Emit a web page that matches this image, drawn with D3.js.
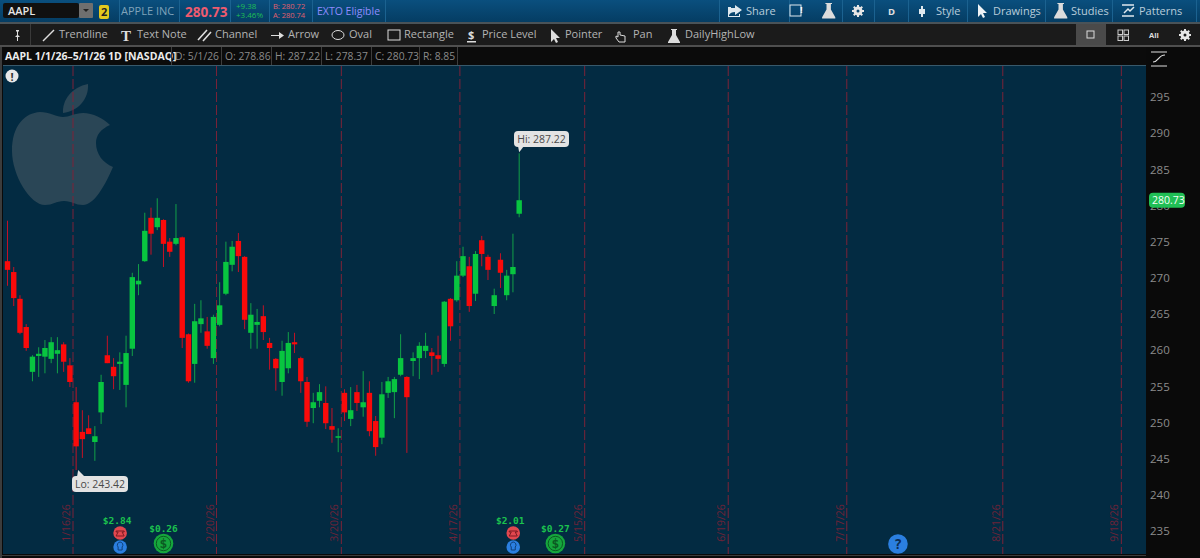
<!DOCTYPE html>
<html>
<head>
<meta charset="utf-8">
<script src="https://cdnjs.cloudflare.com/ajax/libs/d3/7.8.5/d3.min.js"></script>
<style>
  html, body { margin: 0; padding: 0; background: #0a0a0a; overflow: hidden; }
  svg { display: block; font-family: "Open Sans", "Noto Sans", sans-serif; }
</style>
</head>
<body>
<svg id="chart" width="1200" height="558"></svg>
<script>
// daily candles, session 0 = 1/2/26
const opens = [272.3,270.8,267.1,263.2,257.0,259.2,259.1,258.8,259.5,260.8,257.9,252.8,248.7,249.2,247.3,251.4,259.3,257.7,258.1,255.2,260.2,269.1,272.3,278.3,277.0,278.0,275.0,274.7,275.6,262.2,258.1,263.6,262.6,258.9,263.5,267.8,271.8,275.1,272.9,262.4,263.5,264.7,261.0,258.8,255.6,257.5,261.1,258.9,255.6,252.0,253.0,252.7,249.5,247.9,254.1,250.5,254.2,252.1,254.1,250.2,247.9,254.1,254.2,256.6,256.3,258.5,258.9,259.9,259.7,259.3,258.1,267.1,266.9,270.3,271.6,267.8,275.2,272.9,266.1,272.5,267.6,270.5,278.86];
const highs = [277.9,271.5,267.6,263.6,259.3,260.4,261.4,261.8,261.8,261.1,258.9,254.9,251.7,251.0,249.5,256.6,262.0,258.9,259.7,262.0,270.7,271.9,279.0,279.7,281.0,278.1,275.5,280.2,275.7,262.3,266.4,266.9,264.6,264.9,269.4,275.0,275.1,276.2,273.0,266.5,265.7,266.2,261.7,258.9,261.3,262.5,262.4,259.1,256.3,254.1,255.3,255.0,252.0,249.2,254.6,254.9,255.2,257.1,255.7,250.9,255.6,256.3,256.3,262.2,256.4,259.7,261.1,262.4,260.3,262.0,266.8,267.2,272.3,274.3,272.9,273.7,275.8,273.2,268.5,273.4,271.1,276.1,287.22];
const lows = [268.9,266.1,262.2,259.9,255.7,256.3,256.8,258.2,256.8,257.0,254.9,243.42,245.1,248.4,244.7,249.8,258.2,254.6,254.5,252.1,259.2,267.6,272.2,273.2,276.6,271.5,272.9,274.5,260.3,255.5,255.5,262.4,260.2,258.1,263.3,267.6,270.9,270.8,262.9,260.2,260.2,261.4,257.3,254.4,253.7,256.8,259.6,254.1,249.4,249.9,252.1,249.1,247.2,245.9,250.2,249.5,251.6,250.8,248.1,245.4,247.0,253.4,250.6,256.4,245.8,256.4,256.0,258.9,256.6,257.0,257.7,261.3,266.7,270.1,265.3,266.8,271.6,269.7,265.0,268.6,266.9,268.0,278.37];
const closes = [271.1,267.2,262.4,260.3,259.1,259.5,260.3,261.1,260.0,258.4,255.6,246.7,247.7,248.4,248.1,255.6,258.2,256.4,258.4,259.6,270.1,269.6,276.5,276.1,278.3,274.7,273.6,275.5,261.7,255.7,264.0,264.4,260.6,264.6,266.2,272.2,274.3,273.0,264.2,264.9,263.9,262.5,260.3,257.5,259.9,261.0,260.8,255.7,250.1,252.8,254.2,249.9,249.0,248.1,251.4,251.7,252.7,252.8,248.8,246.6,253.9,255.7,256.0,258.9,253.5,258.9,260.6,260.6,259.2,258.8,266.7,263.3,270.3,273.0,266.1,273.3,273.3,271.1,267.6,270.7,270.3,271.5,280.73];

const priceTicks = [235,240,245,250,255,260,265,270,275,280,285,290,295];
const periodSessions = [10,33,53,72,92,115,134,159,178];
const periodLabels = ['1/16/26','2/20/26','3/20/26','4/17/26','5/15/26','6/19/26','7/17/26','8/21/26','9/18/26'];
const earningsSessions = [18,81];
const earningsLabels = ['$2.84','$2.01'];
const dividendSessions = [25,87.8];
const dividendLabels = ['$0.26','$0.27'];
const unknownSessions = [142.7];

const headerItems = ['D: 5/1/26','O: 278.86','H: 287.22','L: 278.37','C: 280.73','R: 8.85'];
const headerX = [175,225,275,325,375,423];
const headerSeps = [171,221,271,321,371,419,457];
const toolNames = ['Trendline','Text Note','Channel','Arrow','Oval','Rectangle','Price Level','Pointer','Pan','DailyHighLow'];
const toolX = [59,137,215,288,349,404,482,565,633,685];
const topNames = ['Share','Style','Drawings','Studies','Patterns'];
const topX = [746,936,993,1071,1139];
const topSeps = [119,179,230,269,312,385,719,789,842,874,908,967,1045,1112,1196];

const chartTop = 66, chartBottom = 554, chartLeft = 3, chartRight = 1146;
const x = d3.scaleLinear().domain([-0.72, 182.45]).range([chartLeft, chartRight]);
const y = d3.scaleLinear().domain([295, 235]).range([97, 531]);

const svg = d3.select('#chart');
const defs = svg.append('defs');
const grad = defs.append('linearGradient').attr('id', 'topbar').attr('x1', 0).attr('x2', 0).attr('y1', 0).attr('y2', 1);
grad.append('stop').attr('offset', 0).attr('stop-color', '#0a4f7e');
grad.append('stop').attr('offset', 1).attr('stop-color', '#053d63');
defs.append('clipPath').attr('id', 'plot').append('rect')
  .attr('x', chartLeft).attr('y', chartTop).attr('width', chartRight - chartLeft).attr('height', chartBottom - chartTop);

const rect = (g, rx, ry, w, h, fill, r) => g.append('rect')
  .attr('x', rx).attr('y', ry).attr('width', w).attr('height', h).attr('fill', fill).attr('rx', r || 0);
const label = (g, tx, ty, t, size, fill, weight) => g.append('text')
  .attr('x', tx).attr('y', ty).text(t).attr('font-size', size).attr('fill', fill).attr('font-weight', weight || 400);

// panels
rect(svg, 0, 0, 1200, 558, '#0a0a0a');
rect(svg, 0, 0, 1200, 22, 'url(#topbar)');
rect(svg, 0, 22, 1200, 2, '#4a5358');
rect(svg, 0, 24, 1200, 21, '#1b1b1b');
rect(svg, 0, 45, 1200, 2, '#4f4f4f');
rect(svg, 0, 47, 1146, 18, '#0b0b0b');
rect(svg, chartLeft, chartTop, chartRight - chartLeft, chartBottom - chartTop, '#032b42');
rect(svg, chartLeft, 65, chartRight - chartLeft, 1, '#38596b');
rect(svg, 0, 47, 2, 511, '#3c3c3c');
rect(svg, 0, 555, 1146, 1, '#3c3c3c');

// top bar
const topBar = svg.append('g').attr('class', 'topbar');
rect(topBar, 3, 3, 76, 15, '#101010', 2);
label(topBar, 8, 15, 'AAPL', 11, '#e6e6e6', 600);
rect(topBar, 79, 3, 14, 15, '#6f6f6f', 1);
topBar.append('path').attr('d', 'M83 9h6l-3 3z').attr('fill', '#222');
rect(topBar, 99, 5, 10, 14, '#e4c91e', 2);
label(topBar, 101, 16, '2', 11, '#222', 700);
label(topBar, 121, 15, 'APPLE INC', 11, '#7fa3ba');
label(topBar, 185, 17, '280.73', 13.5, '#ef5b6f', 700);
label(topBar, 236, 9, '+9.38', 8, '#1fbf55');
label(topBar, 236, 18, '+3.46%', 8, '#1fbf55');
label(topBar, 273, 9, 'B: 280.72', 7.5, '#e0606f');
label(topBar, 273, 18, 'A: 280.74', 7.5, '#e0606f');
label(topBar, 317, 15, 'EXTO Eligible', 10.5, '#8f8cff');
topSeps.forEach(s => rect(topBar, s, 0, 1, 22, '#1b6290'));
topNames.forEach((n, i) => label(topBar, topX[i], 15, n, 11, '#b9cddb'));
label(topBar, 888, 15, 'D', 9.5, '#e0e0e0', 700);

// flask icon, used in both bars
const flask = (g, fx, fy, s) => g.append('path')
  .attr('transform', `translate(${fx},${fy}) scale(${s})`)
  .attr('d', 'M4 0h6v1h-1v5l4 7v1H1v-1l4-7V1H4z').attr('fill', '#dcdcdc');
const gear = (g, cx, cy, r) => {
  g.append('circle').attr('cx', cx).attr('cy', cy).attr('r', r).attr('fill', 'none')
    .attr('stroke', '#e6e6e6').attr('stroke-width', 3);
  d3.range(8).forEach(k => {
    const a = k * Math.PI / 4;
    g.append('line').attr('x1', cx + Math.cos(a) * r).attr('y1', cy + Math.sin(a) * r)
      .attr('x2', cx + Math.cos(a) * (r + 3)).attr('y2', cy + Math.sin(a) * (r + 3))
      .attr('stroke', '#e6e6e6').attr('stroke-width', 2);
  });
};
topBar.append('path').attr('d', 'M729 8h6v-3l7 5-7 5v-3c-3 0-5 1-6 3z M728 7h3v1h-2v8h10v-2h1v3h-12z').attr('fill', '#dfe8ee');
rect(topBar, 790, 5, 11, 11, 'none').attr('stroke', '#dfe8ee');
label(topBar, 800, 13, '!', 9, '#fff', 700);
flask(topBar, 821, 3, 1.1);
gear(topBar, 858, 11, 3);
topBar.append('path').attr('d', 'M921 6h2v3h2v5h-2v3h-2v-3h-2V9h2z').attr('fill', '#dfe8ee');
topBar.append('path').attr('d', 'M978 4v13l3-3 2 4 2-1-2-4h4z').attr('fill', '#eef3f6');
flask(topBar, 1053, 3, 1.1);
topBar.append('path').attr('d', 'M1122 5h12M1122 16h12M1124 13l4-4 2 2 4-4').attr('stroke', '#dfe8ee').attr('fill', 'none').attr('stroke-width', 1.5);

// tool row
const tools = svg.append('g').attr('class', 'tools');
rect(tools, 1076, 24, 30, 21, '#4a4a4a');
rect(tools, 30, 24, 1, 21, '#3a3a3a');
toolNames.forEach((n, i) => label(tools, toolX[i], 38, n, 11, '#b4b4b4'));
tools.append('path').attr('d', 'M16 30h3v1l-1 1v3l2 2h-2v4h-1v-4h-2l2-2v-3l-1-1z').attr('fill', '#ddd');
tools.append('line').attr('x1', 43).attr('y1', 41).attr('x2', 54).attr('y2', 30).attr('stroke', '#ddd').attr('stroke-width', 1.5);
label(tools, 121, 41, 'T', 15, '#ddd', 700).attr('font-family', 'Liberation Serif');
tools.append('path').attr('d', 'M198 40l9-10M203 41l8-9').attr('stroke', '#ddd').attr('stroke-width', 1.6);
tools.append('path').attr('d', 'M271 35h8v-3l5 3.5-5 3.5v-3h-8z').attr('fill', '#ddd');
tools.append('ellipse').attr('cx', 338).attr('cy', 35).attr('rx', 6).attr('ry', 4.5).attr('fill', 'none').attr('stroke', '#ddd');
rect(tools, 388, 30, 12, 10, 'none').attr('stroke', '#ddd');
label(tools, 468, 39, '$', 11, '#ddd', 700);
rect(tools, 467, 41, 9, 1.5, '#ddd');
tools.append('path').attr('d', 'M551 29v13l3-3 2 4 2-1-2-4h4z').attr('fill', '#ddd');
tools.append('path').attr('d', 'M618 32v5l-2-1v2l3 4h6v-6l-5-1v-3z').attr('fill', 'none').attr('stroke', '#ddd');
flask(tools, 667, 29, 1.0);
rect(tools, 1087, 31, 7, 7, 'none').attr('stroke', '#ddd');
[[1118,30],[1124,30],[1118,36],[1124,36]].forEach(p => rect(tools, p[0], p[1], 4.5, 4.5, 'none').attr('stroke', '#ccc'));
label(tools, 1149, 38, 'All', 7.5, '#ddd', 700);
gear(tools, 1185, 35, 3);

// study header row
const info = svg.append('g').attr('class', 'info');
label(info, 5, 60, 'AAPL 1/1/26–5/1/26 1D [NASDAQ]', 10.5, '#ececec', 700);
headerItems.forEach((t, i) => label(info, headerX[i], 60, t, 10.3, '#8a8a8a'));
headerSeps.forEach(s => rect(info, s, 47, 1, 18, '#3d3d3d'));
info.append('path').attr('d', 'M1151 52h16M1151 66h16M1153 62c6 0 5-7 12-7').attr('stroke', '#ddd').attr('fill', 'none').attr('stroke-width', 1.2);

const plot = svg.append('g').attr('clip-path', 'url(#plot)');

// apple watermark
const logo = plot.append('g').attr('fill', '#2a4656');
logo.append('path').attr('d', 'M63 113c-1-13 9-26 25-29 1 14-9 27-25 29z');
logo.append('path').attr('d', 'M110 125c-7-7-17-12-27-12-8 0-14 4-20 4-6 0-14-5-23-5-15 1-28 13-28 39 0 24 18 54 33 54 8 0 11-4 19-4s11 4 19 4c12 0 23-22 30-38-10-4-17-13-17-24 0-8 5-14 14-18z');

// period lines
const periods = plot.append('g').attr('class', 'periods');
periodSessions.forEach((s, i) => {
  const px = x(s + 0.5);
  periods.append('line').attr('x1', px).attr('x2', px).attr('y1', chartTop).attr('y2', chartBottom)
    .attr('stroke', '#7d2338').attr('stroke-width', 1).attr('stroke-dasharray', '10 3');
  periods.append('text').text(periodLabels[i])
    .attr('transform', `translate(${px - 3},523) rotate(-90)`)
    .attr('text-anchor', 'middle').attr('font-size', 10.5).attr('fill', '#6d2338');
});

// candles
const candles = plot.append('g').attr('class', 'candles').selectAll('g').data(opens).join('g');
const isUp = i => closes[i] >= opens[i];
candles.append('line')
  .attr('x1', (d, i) => x(i)).attr('x2', (d, i) => x(i))
  .attr('y1', (d, i) => y(highs[i])).attr('y2', (d, i) => y(lows[i]))
  .attr('stroke', (d, i) => isUp(i) ? '#12a048' : '#c41226');
candles.append('rect')
  .attr('x', (d, i) => x(i) - 2.7).attr('width', 5.4)
  .attr('y', (d, i) => y(Math.max(opens[i], closes[i])))
  .attr('height', (d, i) => Math.max(1.5, Math.abs(y(opens[i]) - y(closes[i]))))
  .attr('fill', (d, i) => isUp(i) ? '#08c540' : '#fa0a0a');

// earnings and dividend markers
const events = plot.append('g').attr('class', 'events').attr('font-family', 'DejaVu Sans Mono, monospace');
earningsSessions.forEach((s, i) => {
  const cx = x(s) + 0.3;
  events.append('text').text(earningsLabels[i]).attr('x', cx - 3).attr('y', 524)
    .attr('text-anchor', 'middle').attr('font-size', 9.5).attr('font-weight', 700).attr('fill', '#1cc24e');
  events.append('circle').attr('cx', cx).attr('cy', 533).attr('r', 6.8).attr('fill', '#e2474f');
  events.append('path').attr('d', `M${cx - 4} ${531}h8v1h-2l2 4h-8l2-4h-2z`).attr('fill', 'none').attr('stroke', '#7d1b22').attr('stroke-width', 1);
  events.append('circle').attr('cx', cx).attr('cy', 547).attr('r', 6.8).attr('fill', '#2b7fe0');
  events.append('path').attr('d', `M${cx} ${542}a3 3 0 0 1 2 5v3h-4v-3a3 3 0 0 1 2-5z`).attr('fill', 'none').attr('stroke', '#0e3f78').attr('stroke-width', 1);
});
dividendSessions.forEach((s, i) => {
  const cx = x(s);
  events.append('text').text(dividendLabels[i]).attr('x', cx).attr('y', 532)
    .attr('text-anchor', 'middle').attr('font-size', 9.5).attr('font-weight', 700).attr('fill', '#1cc24e');
  events.append('circle').attr('cx', cx).attr('cy', 543.5).attr('r', 9.8).attr('fill', '#16a63d');
  events.append('circle').attr('cx', cx).attr('cy', 543.5).attr('r', 7.2).attr('fill', 'none').attr('stroke', '#0b5a22');
  events.append('text').text('$').attr('x', cx).attr('y', 548).attr('text-anchor', 'middle')
    .attr('font-size', 13).attr('font-weight', 700).attr('fill', '#0b5a22');
});
unknownSessions.forEach(s => {
  events.append('circle').attr('cx', x(s)).attr('cy', 544).attr('r', 9.8).attr('fill', '#2b7fe0');
  events.append('text').text('?').attr('x', x(s)).attr('y', 549).attr('text-anchor', 'middle')
    .attr('font-size', 14).attr('font-weight', 700).attr('fill', '#0c2d55');
});

// status badge
plot.append('circle').attr('cx', 12).attr('cy', 76).attr('r', 6.5).attr('fill', '#e8e8e8');
plot.append('text').text('!').attr('x', 12).attr('y', 80.5).attr('text-anchor', 'middle')
  .attr('font-size', 11).attr('font-weight', 700).attr('fill', '#333');

// hi and lo bubbles
const hiIdx = highs.indexOf(d3.max(highs)), loIdx = lows.indexOf(d3.min(lows));
const bubble = (bx, by, w, t, tip) => {
  plot.append('path').attr('d', tip).attr('fill', '#e3e3e3');
  plot.append('rect').attr('x', bx).attr('y', by).attr('width', w).attr('height', 16).attr('rx', 4).attr('fill', '#e3e3e3');
  plot.append('text').text(t).attr('x', bx + w / 2).attr('y', by + 12).attr('text-anchor', 'middle')
    .attr('font-size', 10.5).attr('fill', '#4a4a4a');
};
bubble(514, 131, 55, 'Hi: ' + d3.max(highs), `M518 146h6L${x(hiIdx)} ${y(d3.max(highs)) - 1}z`);
bubble(72, 476, 56, 'Lo: ' + d3.min(lows), `M${x(loIdx) + 2} ${y(d3.min(lows))}L85 477h-8z`);

// price axis
const axis = svg.append('g').attr('class', 'price-axis').attr('transform', `translate(${chartRight},0)`)
  .call(d3.axisRight(y).tickValues(priceTicks).tickSize(0).tickPadding(4));
axis.select('.domain').remove();
axis.selectAll('text').attr('fill', '#8c8c8c').attr('font-size', 11.5).attr('font-family', '"Open Sans", sans-serif');

// last price tag
const lastY = y(closes[closes.length - 1]);
rect(svg, 1149, lastY - 7.5, 36, 15, '#20bf55', 4);
label(svg, 1152, lastY + 4, closes[closes.length - 1].toFixed(2), 10.5, '#f2fff5');
</script>
</body>
</html>
